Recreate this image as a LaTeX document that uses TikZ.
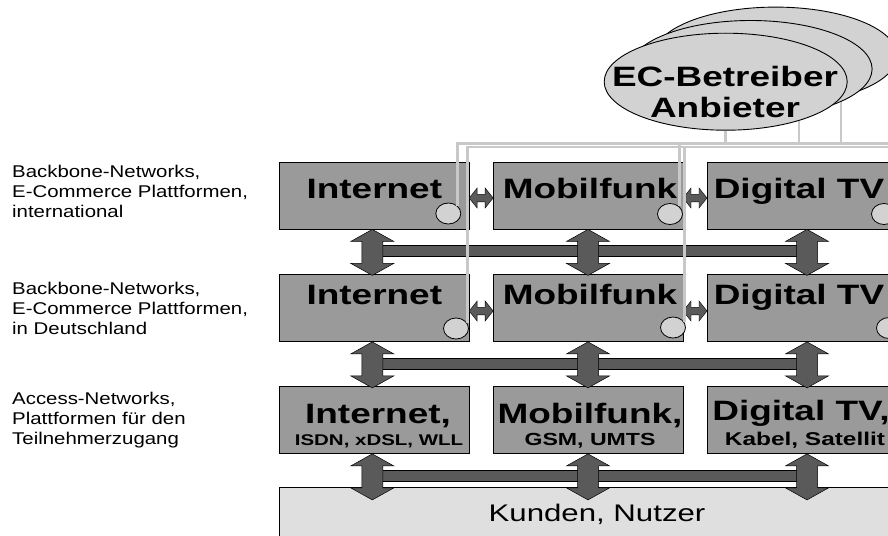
\documentclass[tikz,border=0pt]{standalone}
\usepackage{fontspec}
\setmainfont{Liberation Sans}[FakeStretch = 1.3]
\newfontfamily\labelfont{Liberation Sans}[FakeStretch = 1.2]
\newfontfamily\heavyfont{Liberation Sans}[FakeStretch = 1.32]
\usetikzlibrary{calc, shapes.geometric}
\definecolor{boxgray}{HTML}{9A9A9A}
\definecolor{arrowgray}{HTML}{5A5A5A}
\definecolor{portgray}{HTML}{D2D2D2}
\definecolor{feedgray}{HTML}{C8C8C8}
\definecolor{usergray}{HTML}{DFDFDF}

\begin{document}
\begin{tikzpicture}[x = 1pt, y = -1pt,
    netbox/.style = {draw, fill = boxgray, line width = 0.8pt, minimum width = 190pt, minimum height = 67pt},
    boxlabel/.style = {anchor = base, inner sep = 0pt, font = \heavyfont\bfseries\fontsize{28}{30}\selectfont},
    sublabel/.style = {anchor = base, inner sep = 0pt, font = \heavyfont\bfseries\fontsize{#1}{20}\selectfont},
    rowlabel/.style = {anchor = north west, align = left, inner sep = 0pt, font = \labelfont\fontsize{17}{20}\selectfont},
    port/.style = {ellipse, draw, fill = portgray, line width = 0.8pt, minimum width = 25pt, minimum height = 21pt, inner sep = 0pt},
    provider/.style = {ellipse, draw, fill = portgray, line width = 0.9pt, minimum width = 243pt, minimum height = 97pt},
    feed/.style = {draw = feedgray, line width = 2.5pt},
    bar/.style = {draw, fill = arrowgray, line width = 0.6pt},
    vlink/.pic = {\filldraw[fill = arrowgray, draw = black, line width = 0.5pt] (0, -23) -- (21.5, -11) -- (10.5, -11) -- (10.5, 11) -- (21.5, 11) -- (0, 23) -- (-21.5, 11) -- (-10.5, 11) -- (-10.5, -11) -- (-21.5, -11) -- cycle;},
    hlink/.pic = {\filldraw[fill = arrowgray, draw = black, line width = 0.4pt] (-12, 0) -- (-4, -10) -- (-4, -3.8) -- (4, -3.8) -- (4, -10) -- (12, 0) -- (4, 10) -- (4, 3.8) -- (-4, 3.8) -- (-4, 10) -- cycle;}]
    \useasboundingbox (0, 0) rectangle (888, 535);
    \clip (0, 0) rectangle (888, 535);

    \node[rowlabel] (intl label) at (12, 165) {Backbone-Networks,\\E-Commerce Plattformen,\\international};
    \node[rowlabel] (de label) at (12, 282) {Backbone-Networks,\\E-Commerce Plattformen,\\in Deutschland};
    \node[rowlabel] (access label) at (12, 392) {Access-Networks,\\Plattformen für den\\Teilnehmerzugang};

    \node[netbox] (internet intl) at (374.3, 195.5) {};
    \node[netbox] (mobilfunk intl) at (588, 195.5) {};
    \node[netbox] (digital tv intl) at (802, 195.5) {};
    \node[netbox] (internet de) at (374.3, 308) {};
    \node[netbox] (mobilfunk de) at (588, 308) {};
    \node[netbox] (digital tv de) at (802, 308) {};
    \node[netbox] (internet access) at (374.3, 420) {};
    \node[netbox] (mobilfunk access) at (588, 420) {};
    \node[netbox] (digital tv access) at (802, 420) {};
    \node[draw, fill = usergray, line width = 0.8pt, minimum width = 640pt, minimum height = 70pt, anchor = north west] (kunden) at (279.3, 486.7) {};

    \node[boxlabel] (internet intl text) at (374.3, 198) {Internet};
    \node[boxlabel] (mobilfunk intl text) at (590, 198) {Mobilfunk};
    \node[boxlabel] (digital tv intl text) at (799, 198) {Digital TV};
    \node[boxlabel] (internet de text) at (374.3, 304) {Internet};
    \node[boxlabel] (mobilfunk de text) at (590, 304) {Mobilfunk};
    \node[boxlabel] (digital tv de text) at (799, 304) {Digital TV};
    \node[boxlabel] (internet access text) at (378, 423) {Internet,};
    \node[boxlabel] (mobilfunk access text) at (590, 423) {Mobilfunk,};
    \node[boxlabel] (digital tv access text) at (801, 420) {Digital TV,};
    \node[sublabel = 15.5] (internet access sub) at (379, 445) {ISDN, xDSL, WLL};
    \node[sublabel = 17.5] (mobilfunk access sub) at (590, 445) {GSM, UMTS};
    \node[sublabel = 18.5] (digital tv access sub) at (805, 445) {Kabel, Satellit};
    \node[anchor = base, inner sep = 0pt, font = \fontsize{24}{26}\selectfont] (kunden text) at (597, 521) {Kunden, Nutzer};

    \draw[bar] ($(internet intl.south) + (-2, 16)$) rectangle ($(digital tv intl.south) + (5, 27)$);
    \draw[bar] ($(internet de.south) + (-2, 16)$) rectangle ($(digital tv de.south) + (5, 27)$);
    \draw[bar] ($(internet access.south) + (-2, 16)$) rectangle ($(digital tv access.south) + (5, 27)$);
    \pic at ($(internet intl.south) + (-2, 23)$) {vlink};
    \pic at ($(mobilfunk intl.south) + (0, 23)$) {vlink};
    \pic at ($(digital tv intl.south) + (5, 23)$) {vlink};
    \pic at ($(internet de.south) + (-2, 23)$) {vlink};
    \pic at ($(mobilfunk de.south) + (0, 23)$) {vlink};
    \pic at ($(digital tv de.south) + (5, 23)$) {vlink};
    \pic at ($(internet access.south) + (-2, 23)$) {vlink};
    \pic at ($(mobilfunk access.south) + (0, 23)$) {vlink};
    \pic at ($(digital tv access.south) + (5, 23)$) {vlink};
    \pic at ($(internet intl.east)!0.5!(mobilfunk intl.west) + (0, 2.5)$) {hlink};
    \pic at ($(mobilfunk intl.east)!0.5!(digital tv intl.west) + (0, 2.5)$) {hlink};
    \pic at ($(internet de.east)!0.5!(mobilfunk de.west) + (0, 3)$) {hlink};
    \pic at ($(mobilfunk de.east)!0.5!(digital tv de.west) + (0, 3)$) {hlink};

    \node[port] (internet intl port) at (448.3, 213.5) {};
    \node[port] (mobilfunk intl port) at (670, 214) {};
    \node[port] (digital tv intl port) at (884, 214) {};
    \node[port] (internet de port) at (456, 328.5) {};
    \node[port] (mobilfunk de port) at (673, 327.5) {};
    \node[port] (digital tv de port) at (889, 328) {};

    \node[provider] (provider back) at (775.5, 55.6) {};
    \node[provider] (provider mid) at (750.6, 69) {};
    \node[provider] (provider front) at (725.7, 81.7) {};
    \node[align = center, inner sep = 0pt, font = \heavyfont\bfseries\fontsize{28}{31}\selectfont] (provider text) at (725, 91.7) {EC-Betreiber\\Anbieter};

    \coordinate (outer bus) at (900, 143.5);
    \coordinate (inner bus) at (900, 147);
    \draw[feed] (provider front.south) -- (provider front.south |- outer bus);
    \draw[feed] (provider front.-28) -- (provider front.-28 |- outer bus);
    \draw[feed] (provider mid.-20) -- (provider mid.-20 |- outer bus);
    \draw[feed] (internet intl port.39) |- (outer bus);
    \draw[feed] (mobilfunk intl port.39) -- (mobilfunk intl port.39 |- outer bus);
    \draw[feed] (digital tv intl port.39) -- (digital tv intl port.39 |- outer bus);
    \draw[feed] (internet de port.24) |- (inner bus);
    \draw[feed] (mobilfunk de port.24) -- (mobilfunk de port.24 |- inner bus);
    \draw[feed] (digital tv de port.24) -- (digital tv de port.24 |- inner bus);
\end{tikzpicture}
\end{document}
